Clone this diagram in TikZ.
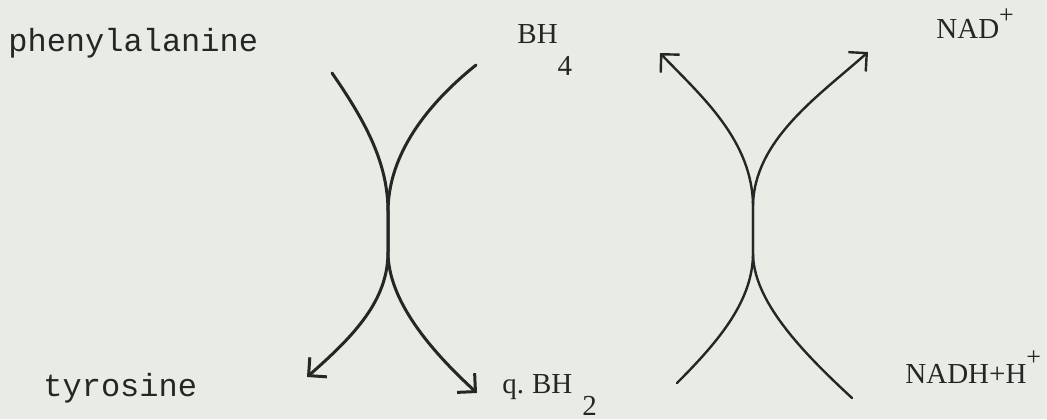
\documentclass[tikz,border=0pt]{standalone}
\usepackage{fontspec}
\usetikzlibrary{arrows.meta}
\newfontfamily\typerface{Liberation Mono}
\newfontfamily\chemface{Liberation Serif}
\definecolor{paper}{HTML}{E9ECE5}
\definecolor{ink}{HTML}{262626}
\begin{document}
\begin{tikzpicture}[
  x=0.5pt,y=-0.5pt,
  molname/.style={anchor=base west,inner sep=0pt,text=ink,font=\typerface\fontsize{16}{18}\selectfont},
  chem/.style={anchor=base west,inner sep=0pt,text=ink,font=\chemface\fontsize{14.5}{16}\selectfont},
  barb/.style={-{Straight Barb[length=6.5pt,width=13pt]}},
  left pair/.style={draw=ink,line width=1.5pt,line cap=round},
  right pair/.style={draw=ink,line width=1.2pt,line cap=round}
]
\fill[paper] (0,0) rectangle (1047,419);
\useasboundingbox (0,0) rectangle (1047,419);

\node[molname] (phe) at (8,51) {phenylalanine};
\node[molname] (tyr) at (43,396) {tyrosine};
\node[chem] (bh4) at (517,43) {BH\raisebox{-16pt}{4}};
\node[chem] (qbh2) at (502,393) {q.\hspace{4pt}BH\hspace{5pt}\raisebox{-11pt}{2}};
\node[chem] (nad) at (936,38) {NAD\raisebox{7.5pt}{\fontsize{13}{13}\selectfont +}};
\node[chem] (nadh) at (905,383) {NADH+H\raisebox{9pt}{\fontsize{13}{13}\selectfont +}};

\coordinate (pheIn) at (332,73);
\coordinate (tyrOut) at (307,377);
\coordinate (bh4In) at (476,65);
\coordinate (bh2Out) at (477,393);
\coordinate (hydTop) at (388,212);
\coordinate (hydBot) at (388,252);
\coordinate (qIn) at (677,383);
\coordinate (bh4Out) at (660,53);
\coordinate (nadhIn) at (852,398);
\coordinate (nadOut) at (868,52);
\coordinate (redTop) at (753,207);
\coordinate (redBot) at (753,253);

\draw[left pair,barb] (pheIn) .. controls (368,125) and (388,165) .. (hydTop) -- (hydBot) .. controls (388,300) and (355,335) .. (tyrOut);
\draw[left pair,barb] (bh4In) .. controls (420,110) and (388,160) .. (hydTop) -- (hydBot) .. controls (388,300) and (430,350) .. (bh2Out);
\draw[right pair,barb] (qIn) .. controls (720,340) and (753,300) .. (redBot) -- (redTop) .. controls (753,140) and (700,95) .. (bh4Out);
\draw[right pair,barb] (nadhIn) .. controls (800,350) and (753,300) .. (redBot) -- (redTop) .. controls (753,140) and (820,95) .. (nadOut);
\end{tikzpicture}
\end{document}
